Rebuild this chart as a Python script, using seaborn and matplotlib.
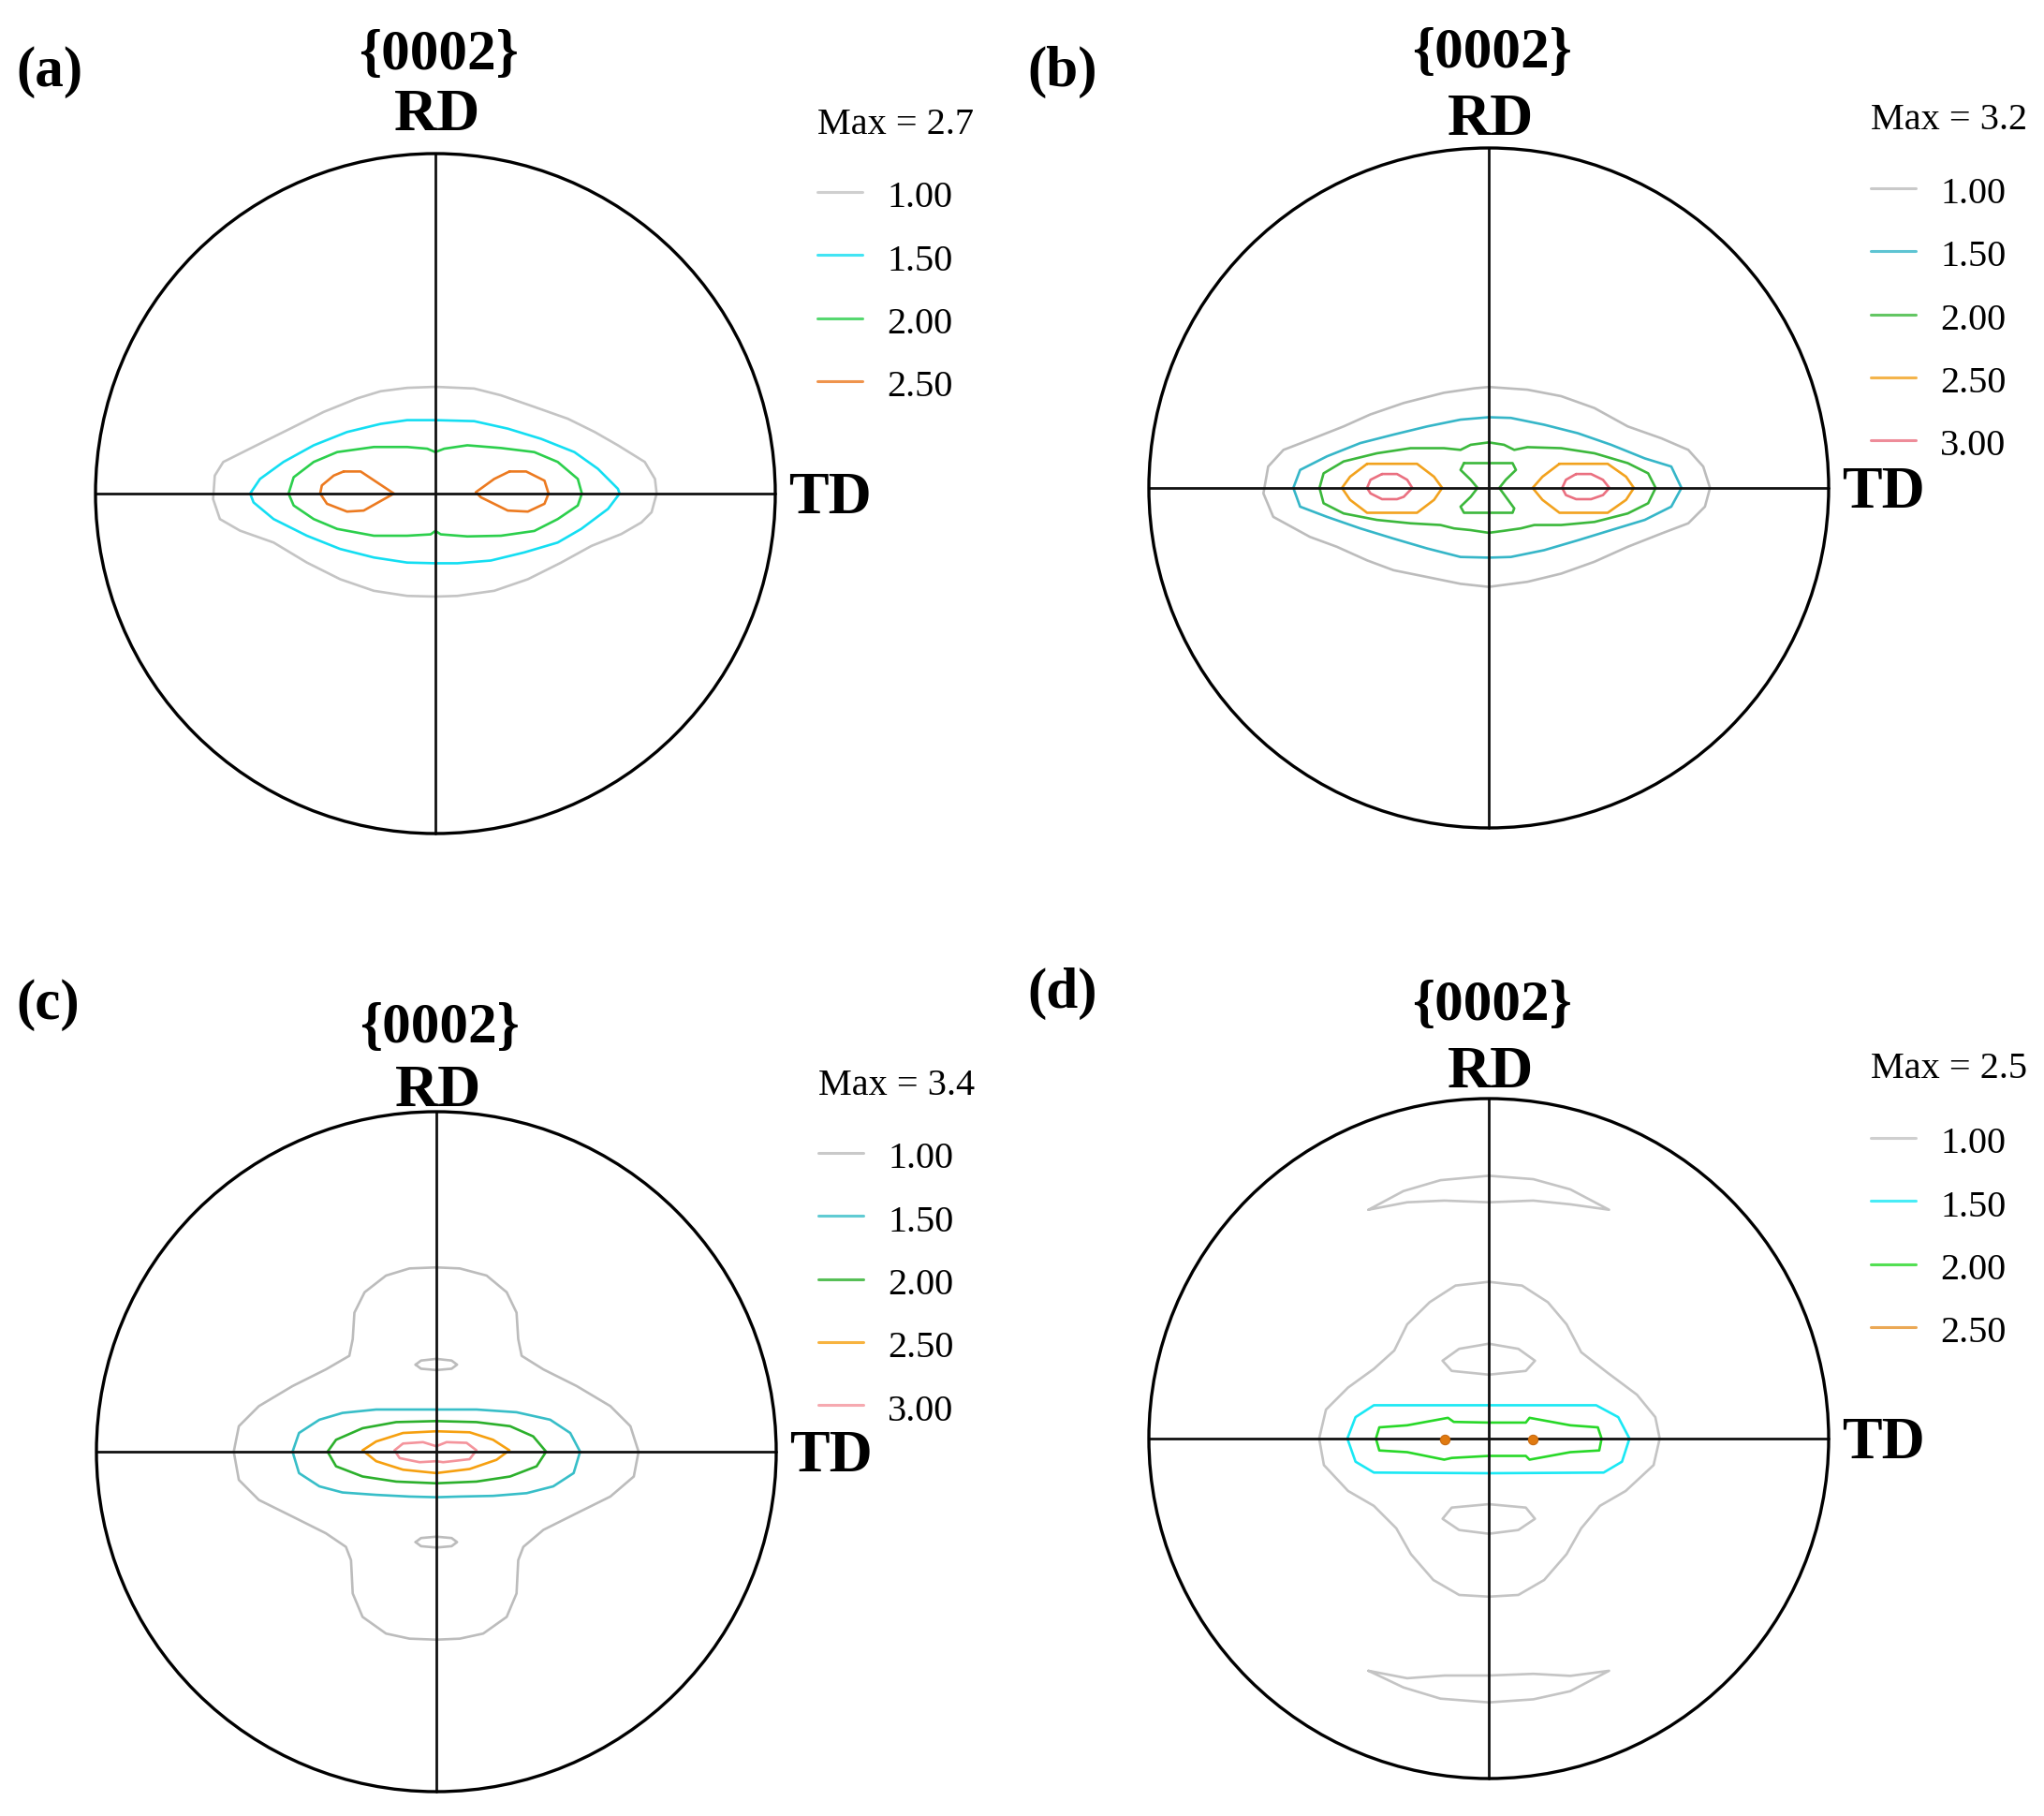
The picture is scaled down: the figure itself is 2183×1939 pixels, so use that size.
import numpy as np
import pandas as pd
import seaborn as sns
import matplotlib.pyplot as plt
from matplotlib.patches import Circle

# contour levels and panel info
levels = ["1.00", "1.50", "2.00", "2.50", "3.00"]
panel_tags = ["(a)", "(b)", "(c)", "(d)"]
max_values = ["2.7", "3.2", "3.4", "2.5"]
n_levels = [4, 5, 5, 4]

# contour outlines (unit = pole figure radius)
a_gray = [(0, 0.314), (0.114, 0.309), (0.193, 0.289), (0.291, 0.255), (0.390, 0.220), (0.469, 0.181),
          (0.537, 0.142), (0.616, 0.093), (0.646, 0.043), (0.651, 0), (0.636, -0.055), (0.606, -0.085),
          (0.547, -0.119), (0.459, -0.154), (0.370, -0.203), (0.272, -0.252), (0.173, -0.286),
          (0.065, -0.301), (0, -0.303), (-0.083, -0.301), (-0.181, -0.286), (-0.280, -0.252),
          (-0.378, -0.203), (-0.476, -0.144), (-0.575, -0.109), (-0.634, -0.075), (-0.654, -0.016),
          (-0.649, 0.053), (-0.624, 0.093), (-0.526, 0.142), (-0.427, 0.191), (-0.329, 0.240),
          (-0.230, 0.280), (-0.161, 0.301), (-0.083, 0.311)]
a_cyan = [(0, 0.216), (0.114, 0.213), (0.213, 0.191), (0.311, 0.161), (0.409, 0.122), (0.478, 0.073),
          (0.537, 0.014), (0.542, 0), (0.508, -0.045), (0.429, -0.104), (0.360, -0.144), (0.262, -0.173),
          (0.163, -0.197), (0.065, -0.205), (0, -0.205), (-0.083, -0.203), (-0.181, -0.188),
          (-0.280, -0.163), (-0.378, -0.124), (-0.476, -0.075), (-0.535, -0.026), (-0.545, 0),
          (-0.516, 0.043), (-0.447, 0.093), (-0.358, 0.142), (-0.260, 0.181), (-0.161, 0.205),
          (-0.083, 0.216)]
a_green = [(0, 0.122), (0.026, 0.132), (0.094, 0.142), (0.193, 0.134), (0.291, 0.122), (0.360, 0.093),
           (0.419, 0.043), (0.431, 0), (0.419, -0.035), (0.360, -0.075), (0.291, -0.110), (0.193, -0.124),
           (0.094, -0.126), (0.016, -0.120), (0, -0.110), (-0.014, -0.120), (-0.083, -0.124),
           (-0.181, -0.124), (-0.289, -0.104), (-0.358, -0.075), (-0.417, -0.035), (-0.432, 0),
           (-0.417, 0.048), (-0.358, 0.093), (-0.289, 0.122), (-0.181, 0.137), (-0.083, 0.137),
           (-0.024, 0.132)]
a_orange_l = [(-0.270, 0.065), (-0.220, 0.065), (-0.122, 0), (-0.211, -0.050), (-0.260, -0.053),
              (-0.319, -0.030), (-0.339, 0), (-0.334, 0.024), (-0.299, 0.053)]
a_orange_r = [(0.218, 0.065), (0.267, 0.065), (0.321, 0.038), (0.333, 0), (0.321, -0.030),
              (0.272, -0.053), (0.213, -0.050), (0.134, -0.011), (0.119, 0.004), (0.173, 0.043)]

b_gray = [(0, 0.297), (0.114, 0.289), (0.213, 0.270), (0.311, 0.235), (0.409, 0.181), (0.508, 0.146),
          (0.587, 0.112), (0.631, 0.063), (0.651, 0), (0.636, -0.055), (0.587, -0.104), (0.508, -0.134),
          (0.409, -0.173), (0.311, -0.217), (0.213, -0.252), (0.114, -0.276), (0, -0.291),
          (-0.083, -0.282), (-0.181, -0.262), (-0.280, -0.242), (-0.358, -0.213), (-0.447, -0.173),
          (-0.526, -0.144), (-0.634, -0.085), (-0.663, -0.016), (-0.649, 0.063), (-0.604, 0.112),
          (-0.526, 0.142), (-0.427, 0.181), (-0.349, 0.216), (-0.250, 0.250), (-0.132, 0.280),
          (-0.043, 0.293)]
b_cyan = [(0, 0.208), (0.065, 0.206), (0.163, 0.186), (0.262, 0.161), (0.360, 0.127), (0.459, 0.087),
          (0.537, 0.063), (0.567, 0), (0.537, -0.055), (0.459, -0.094), (0.360, -0.124), (0.262, -0.154),
          (0.163, -0.183), (0.065, -0.203), (0, -0.205), (-0.083, -0.203), (-0.181, -0.178),
          (-0.280, -0.149), (-0.378, -0.119), (-0.476, -0.085), (-0.555, -0.055), (-0.575, 0),
          (-0.555, 0.053), (-0.476, 0.093), (-0.378, 0.132), (-0.280, 0.157), (-0.181, 0.181),
          (-0.083, 0.201)]
b_green = [(0, 0.134), (0.045, 0.127), (0.075, 0.112), (0.114, 0.120), (0.213, 0.117), (0.311, 0.102),
           (0.409, 0.073), (0.469, 0.043), (0.491, 0), (0.469, -0.045), (0.409, -0.075), (0.311, -0.100),
           (0.213, -0.109), (0.134, -0.109), (0.094, -0.119), (0.045, -0.126), (0, -0.132),
           (-0.053, -0.124), (-0.102, -0.119), (-0.142, -0.109), (-0.230, -0.104), (-0.329, -0.094),
           (-0.427, -0.075), (-0.486, -0.045), (-0.498, 0), (-0.486, 0.043), (-0.427, 0.078),
           (-0.329, 0.102), (-0.230, 0.117), (-0.132, 0.117), (-0.083, 0.112), (-0.053, 0.127)]
b_green_mid = [(-0.073, 0.073), (0.070, 0.073), (0.080, 0.053), (0.050, 0.024), (0.031, 0),
               (0.050, -0.026), (0.075, -0.060), (0.070, -0.073), (-0.073, -0.073), (-0.083, -0.055),
               (-0.053, -0.026), (-0.033, 0), (-0.053, 0.024), (-0.083, 0.053)]
b_orange_l = [(-0.358, 0.071), (-0.211, 0.071), (-0.161, 0.033), (-0.137, 0), (-0.161, -0.035),
              (-0.211, -0.073), (-0.358, -0.073), (-0.408, -0.035), (-0.432, 0), (-0.408, 0.033)]
b_orange_r = [(0.208, 0.071), (0.350, 0.071), (0.404, 0.033), (0.427, 0), (0.404, -0.035),
              (0.350, -0.073), (0.208, -0.073), (0.158, -0.035), (0.129, 0), (0.158, 0.033)]
b_red_l = [(-0.314, 0.041), (-0.270, 0.041), (-0.240, 0.024), (-0.225, 0), (-0.250, -0.026),
           (-0.270, -0.033), (-0.314, -0.033), (-0.348, -0.016), (-0.358, 0), (-0.348, 0.024)]
b_red_r = [(0.257, 0.041), (0.301, 0.041), (0.336, 0.024), (0.355, 0), (0.336, -0.021),
           (0.301, -0.033), (0.257, -0.033), (0.227, -0.021), (0.216, 0), (0.227, 0.024)]

c_gray = [(0, 0.542), (0.069, 0.539), (0.148, 0.518), (0.207, 0.469), (0.236, 0.409), (0.241, 0.331),
          (0.251, 0.282), (0.315, 0.242), (0.413, 0.193), (0.512, 0.134), (0.571, 0.075), (0.595, 0),
          (0.581, -0.073), (0.512, -0.132), (0.413, -0.181), (0.315, -0.230), (0.256, -0.280),
          (0.241, -0.319), (0.236, -0.417), (0.207, -0.486), (0.138, -0.535), (0.069, -0.550),
          (0, -0.553), (-0.079, -0.550), (-0.148, -0.535), (-0.217, -0.486), (-0.246, -0.417),
          (-0.251, -0.319), (-0.266, -0.280), (-0.325, -0.240), (-0.423, -0.191), (-0.522, -0.142),
          (-0.581, -0.083), (-0.596, 0), (-0.581, 0.075), (-0.522, 0.134), (-0.423, 0.193),
          (-0.325, 0.242), (-0.256, 0.282), (-0.246, 0.331), (-0.241, 0.409), (-0.211, 0.469),
          (-0.148, 0.518), (-0.079, 0.539)]
c_gray_top = [(-0.061, 0.256), (-0.045, 0.268), (0, 0.273), (0.045, 0.268), (0.061, 0.256),
              (0.045, 0.244), (0, 0.240), (-0.045, 0.244)]
c_gray_bot = [(-0.061, -0.266), (-0.045, -0.254), (0, -0.250), (0.045, -0.254), (0.061, -0.266),
              (0.045, -0.278), (0, -0.282), (-0.045, -0.278)]
c_cyan = [(0, 0.124), (0.118, 0.124), (0.236, 0.116), (0.335, 0.094), (0.394, 0.055), (0.423, 0),
          (0.404, -0.063), (0.344, -0.102), (0.266, -0.122), (0.167, -0.130), (0.069, -0.132),
          (0, -0.134), (-0.079, -0.132), (-0.177, -0.127), (-0.276, -0.120), (-0.344, -0.102),
          (-0.404, -0.063), (-0.423, 0), (-0.404, 0.055), (-0.344, 0.094), (-0.276, 0.114),
          (-0.177, 0.124), (-0.079, 0.124)]
c_green = [(0, 0.090), (0.118, 0.087), (0.217, 0.075), (0.285, 0.045), (0.323, 0), (0.295, -0.043),
           (0.217, -0.073), (0.118, -0.088), (0, -0.093), (-0.118, -0.088), (-0.217, -0.073),
           (-0.295, -0.043), (-0.320, 0), (-0.295, 0.035), (-0.217, 0.069), (-0.118, 0.087)]
c_orange = [(0, 0.060), (0.098, 0.057), (0.167, 0.035), (0.215, 0.004), (0.177, -0.024),
            (0.098, -0.051), (0, -0.063), (-0.098, -0.053), (-0.177, -0.028), (-0.217, 0.004),
            (-0.177, 0.030), (-0.098, 0.055)]
c_red = [(0, 0.016), (0.030, 0.028), (0.089, 0.026), (0.118, 0.004), (0.098, -0.022), (0.020, -0.031),
         (0, -0.028), (-0.049, -0.031), (-0.108, -0.019), (-0.123, 0.004), (-0.098, 0.024),
         (-0.039, 0.028)]

d_gray_top = [(-0.354, 0.673), (-0.251, 0.728), (-0.142, 0.760), (0, 0.773), (0.131, 0.763),
              (0.240, 0.733), (0.354, 0.673), (0.240, 0.689), (0.131, 0.700), (0, 0.695),
              (-0.131, 0.700), (-0.240, 0.695)]
d_gray_bot = [(-0.354, -0.683), (-0.251, -0.732), (-0.142, -0.765), (0, -0.776), (0.131, -0.767),
              (0.240, -0.743), (0.354, -0.683), (0.240, -0.698), (0.131, -0.692), (0, -0.697),
              (-0.131, -0.697), (-0.240, -0.705)]
d_gray = [(0, 0.461), (0.098, 0.450), (0.174, 0.401), (0.229, 0.336), (0.272, 0.254), (0.349, 0.194),
          (0.436, 0.129), (0.490, 0.063), (0.503, 0), (0.485, -0.078), (0.403, -0.154), (0.327, -0.198),
          (0.272, -0.264), (0.229, -0.340), (0.163, -0.416), (0.087, -0.460), (0, -0.465),
          (-0.087, -0.460), (-0.163, -0.416), (-0.229, -0.340), (-0.272, -0.264), (-0.338, -0.198),
          (-0.414, -0.154), (-0.485, -0.078), (-0.499, 0), (-0.479, 0.085), (-0.414, 0.150),
          (-0.338, 0.205), (-0.278, 0.259), (-0.240, 0.336), (-0.174, 0.401), (-0.098, 0.450)]
d_gray_in_top = [(0, 0.279), (0.087, 0.264), (0.136, 0.229), (0.109, 0.199), (0, 0.188),
                 (-0.109, 0.199), (-0.136, 0.229), (-0.087, 0.264)]
d_gray_in_bot = [(0, -0.280), (0.087, -0.269), (0.136, -0.236), (0.109, -0.203), (0, -0.193),
                 (-0.109, -0.203), (-0.136, -0.236), (-0.087, -0.269)]
d_cyan = [(0, 0.098), (0.316, 0.098), (0.381, 0.063), (0.414, 0), (0.392, -0.068), (0.338, -0.100),
          (0, -0.102), (-0.338, -0.100), (-0.392, -0.068), (-0.416, 0), (-0.392, 0.063), (-0.338, 0.098)]
d_green = [(0, 0.047), (0.109, 0.047), (0.120, 0.061), (0.240, 0.039), (0.321, 0.033), (0.332, 0),
           (0.325, -0.035), (0.240, -0.040), (0.120, -0.062), (0.109, -0.051), (0, -0.051),
           (-0.109, -0.057), (-0.131, -0.062), (-0.240, -0.040), (-0.322, -0.035), (-0.332, 0),
           (-0.322, 0.033), (-0.240, 0.039), (-0.120, 0.061), (-0.103, 0.049)]
d_orange_x = [-0.129, 0.129]
d_orange_y = [-0.004, -0.004]

panel_contours = [
    [("1.00", a_gray), ("1.50", a_cyan), ("2.00", a_green), ("2.50", a_orange_l), ("2.50", a_orange_r)],
    [("1.00", b_gray), ("1.50", b_cyan), ("2.00", b_green), ("2.00", b_green_mid),
     ("2.50", b_orange_l), ("2.50", b_orange_r), ("3.00", b_red_l), ("3.00", b_red_r)],
    [("1.00", c_gray), ("1.00", c_gray_top), ("1.00", c_gray_bot), ("1.50", c_cyan),
     ("2.00", c_green), ("2.50", c_orange), ("3.00", c_red)],
    [("1.00", d_gray_top), ("1.00", d_gray_bot), ("1.00", d_gray), ("1.00", d_gray_in_top),
     ("1.00", d_gray_in_bot), ("1.50", d_cyan), ("2.00", d_green)],
]

panel_colors = [
    {"1.00": "#c4c4c4", "1.50": "#14def2", "2.00": "#2ccf4c", "2.50": "#ec7a20"},
    {"1.00": "#bcbcbc", "1.50": "#36b6c8", "2.00": "#3cb83c", "2.50": "#f2a21e", "3.00": "#ea7080"},
    {"1.00": "#bcbcbc", "1.50": "#38bec8", "2.00": "#2cb02c", "2.50": "#f6a010", "3.00": "#f4949c"},
    {"1.00": "#c4c4c4", "1.50": "#1ae8f4", "2.00": "#28d828", "2.50": "#e6922a"},
]

# layout: pole figure centres in pixels, radius in pixels
W, H = 2183, 1940
R = 363
centers = [(465, 528), (1590, 522), (466, 1551), (1590, 1537)]
tag_pos = [(-1.234, 1.20), (-1.358, 1.185), (-1.237, 1.275), (-1.358, 1.27)]
title_y = [1.25, 1.24, 1.207, 1.235]
rd_y = [1.073, 1.041, 1.018, 1.036]
max_y = [1.06, 1.057, 1.052, 1.062]
leg_y0 = [0.887, 0.882, 0.879, 0.884]

sns.set_theme(style="white")
plt.rcParams["font.family"] = ["Liberation Serif", "DejaVu Serif"]
plt.rcParams["text.color"] = "black"

fig = plt.figure(figsize=(W / 100, H / 100), dpi=100)
fig.patch.set_facecolor("white")

x0, x1, y0, y1 = -1.3, 1.75, -1.1, 1.45
for i in range(4):
    cx, cy = centers[i]
    ax = fig.add_axes([(cx + x0 * R) / W, (H - cy + y0 * R) / H,
                       (x1 - x0) * R / W, (y1 - y0) * R / H])

    rows = []
    for k, (lev, pts) in enumerate(panel_contours[i]):
        pts = list(pts) + [pts[0]]
        for j, (px, py) in enumerate(pts):
            rows.append({"x": px, "y": py, "level": lev, "part": k, "order": j})
    df = pd.DataFrame(rows)

    sns.lineplot(data=df, x="x", y="y", hue="level", units="part", estimator=None,
                 sort=False, palette=panel_colors[i], linewidth=1.9, legend=False, ax=ax,
                 solid_joinstyle="round")
    if i == 3:
        sns.scatterplot(x=d_orange_x, y=d_orange_y, color="#e07a10", s=55,
                        edgecolor="#c86a10", linewidth=0.8, ax=ax, zorder=5)

    # frame: circle and cross
    ax.add_patch(Circle((0, 0), 1.0, fill=False, ec="black", lw=2.4, zorder=4))
    ax.plot([-1, 1], [0, 0], color="#111111", lw=2.0, zorder=3)
    ax.plot([0, 0], [-1, 1], color="#111111", lw=2.0, zorder=3)

    ax.set_xlim(x0, x1)
    ax.set_ylim(y0, y1)
    ax.set_axis_off()

    ax.text(tag_pos[i][0], tag_pos[i][1], panel_tags[i], fontsize=44, fontweight="bold",
            ha="left", va="baseline", color="black")
    ax.text(0.01, title_y[i], "{0002}", fontsize=44, fontweight="bold", ha="center",
            va="baseline", color="black")
    ax.text(0.005, rd_y[i], "RD", fontsize=46, fontweight="bold", ha="center",
            va="baseline", color="black")
    ax.text(1.04, -0.055, "TD", fontsize=46, fontweight="bold", ha="left",
            va="baseline", color="black")

    ax.text(1.123, max_y[i], "Max = " + max_values[i], fontsize=29, ha="left",
            va="baseline", color="black")
    for j in range(n_levels[i]):
        ly = leg_y0[i] - 0.1855 * j
        lev = levels[j]
        ax.plot([1.125, 1.255], [ly, ly], color=panel_colors[i][lev], lw=2.2, alpha=0.8)
        ax.text(1.328, ly - 0.042, lev, fontsize=29, ha="left", va="baseline", color="black")

fig.savefig("out.png", dpi=100, facecolor="white")
